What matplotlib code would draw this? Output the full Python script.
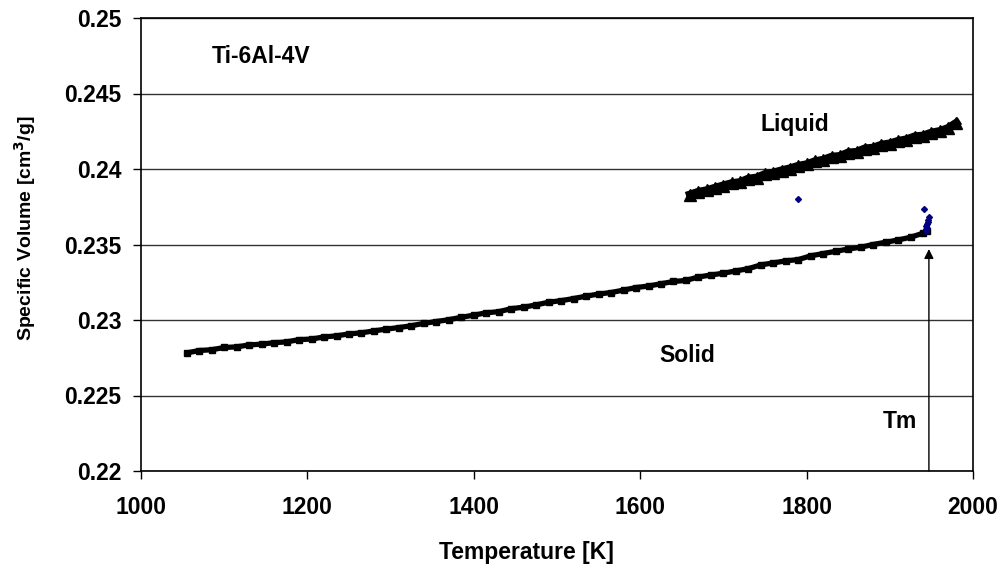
import matplotlib
matplotlib.use("Agg")
import matplotlib.pyplot as plt

plt.rcParams['font.family'] = ['Liberation Sans', 'DejaVu Sans']
plt.rcParams['font.weight'] = 'bold'

# Solid phase data (K, cm^3/g)
solid_T = [1055, 1070, 1085, 1100, 1115, 1130, 1145, 1160, 1175, 1190,
           1205, 1220, 1235, 1250, 1265, 1280, 1295, 1310, 1325, 1340,
           1355, 1370, 1385, 1400, 1415, 1430, 1445, 1460, 1475, 1490,
           1505, 1520, 1535, 1550, 1565, 1580, 1595, 1610, 1625, 1640,
           1655, 1670, 1685, 1700, 1715, 1730, 1745, 1760, 1775, 1790,
           1805, 1820, 1835, 1850, 1865, 1880, 1895, 1910, 1925, 1940, 1945]
solid_V = [0.22782, 0.22798, 0.22803, 0.22818, 0.22822, 0.22835, 0.22840, 0.22850, 0.22855, 0.22870,
           0.22874, 0.22888, 0.22895, 0.22908, 0.22915, 0.22928, 0.22940, 0.22950, 0.22962, 0.22978,
           0.22990, 0.23002, 0.23018, 0.23032, 0.23048, 0.23055, 0.23075, 0.23085, 0.23100, 0.23118,
           0.23128, 0.23142, 0.23158, 0.23172, 0.23182, 0.23198, 0.23215, 0.23225, 0.23240, 0.23255,
           0.23262, 0.23285, 0.23298, 0.23310, 0.23325, 0.23340, 0.23365, 0.23378, 0.23392, 0.23400,
           0.23425, 0.23440, 0.23455, 0.23470, 0.23482, 0.23500, 0.23515, 0.23530, 0.23548, 0.23575, 0.23590]

# Liquid phase data
liquid_T = [1660, 1670, 1680, 1690, 1700, 1710, 1720, 1730, 1740, 1750,
            1760, 1770, 1780, 1790, 1800, 1810, 1820, 1830, 1840, 1850,
            1860, 1870, 1880, 1890, 1900, 1910, 1920, 1930, 1940, 1950,
            1960, 1970, 1980]
liquid_V = [0.23830, 0.23848, 0.23858, 0.23875, 0.23890, 0.23905, 0.23912, 0.23935, 0.23942, 0.23965,
            0.23975, 0.23990, 0.24003, 0.24020, 0.24030, 0.24050, 0.24060, 0.24080, 0.24085, 0.24108,
            0.24112, 0.24135, 0.24140, 0.24160, 0.24168, 0.24185, 0.24195, 0.24215, 0.24220, 0.24240,
            0.24250, 0.24270, 0.24305]

# Transition (melting) points
trans_T = [1790, 1941, 1947, 1946, 1946, 1945, 1944, 1945, 1944, 1943]
trans_V = [0.23801, 0.23735, 0.23680, 0.23665, 0.23648, 0.23635, 0.23622, 0.23610, 0.23600, 0.23592]

x_ticks = [1000, 1200, 1400, 1600, 1800, 2000]
y_ticks = [0.22, 0.225, 0.23, 0.235, 0.24, 0.245, 0.25]
y_tick_labels = ['0.22', '0.225', '0.23', '0.235', '0.24', '0.245', '0.25']
Tm = 1947

fig = plt.figure(figsize=(10.08, 5.67), dpi=100)
ax = fig.add_axes([141/1008, 1 - 471/567, 832/1008, 453/567])

ax.set_xlim(1000, 2000)
ax.set_ylim(0.22, 0.25)

for yv in y_ticks:
    ax.axhline(yv, color='#333333', lw=1.0, zorder=1)

ax.plot(solid_T, solid_V, color='black', lw=3.8, marker='s', ms=4.5,
        mfc='black', mec='black', solid_capstyle='round', zorder=3)
ax.plot(liquid_T, liquid_V, color='black', lw=6, zorder=3)
ax.plot(liquid_T, liquid_V, ls='none', marker='^', ms=9, mfc='black', mec='black', zorder=3)
ax.plot(trans_T, trans_V, ls='none', marker='D', ms=3, mfc='#000080', mec='#000080', zorder=4)

ax.annotate('', xy=(Tm, 0.2347), xytext=(Tm, 0.22),
            arrowprops=dict(arrowstyle='-|>', color='black', lw=1.0,
                            mutation_scale=14, shrinkA=0, shrinkB=0), zorder=5)

fs = 16.5
ax.text(1085, 0.24748, 'Ti-6Al-4V', fontsize=fs, fontweight='bold', ha='left', va='center')
ax.text(1786, 0.24298, 'Liquid', fontsize=fs, fontweight='bold', ha='center', va='center')
ax.text(1657, 0.22768, 'Solid', fontsize=fs, fontweight='bold', ha='center', va='center')
ax.text(1912, 0.22328, 'Tm', fontsize=fs, fontweight='bold', ha='center', va='center')

ax.set_xticks(x_ticks)
ax.set_xticklabels([str(v) for v in x_ticks])
ax.set_yticks(y_ticks)
ax.set_yticklabels(y_tick_labels)
ax.tick_params(axis='both', direction='out', length=6, width=1, color='black',
               labelsize=fs)
ax.tick_params(axis='x', pad=12)
ax.tick_params(axis='y', pad=8)
for lab in ax.get_xticklabels() + ax.get_yticklabels():
    lab.set_fontweight('bold')

for s in ax.spines.values():
    s.set_color('black')
    s.set_linewidth(1.2)

ax.set_xlabel('Temperature [K]', fontsize=fs, fontweight='bold')
ax.xaxis.set_label_coords((526 - 141) / 832, (471 - 541) / 453)
ax.set_ylabel('Specific Volume [cm$^\\mathbf{3}$/g]', fontsize=14, fontweight='bold')
ax.yaxis.set_label_coords((38 - 141) / 832, (471 - 228) / 453)

fig.savefig('out.png', dpi=100)
